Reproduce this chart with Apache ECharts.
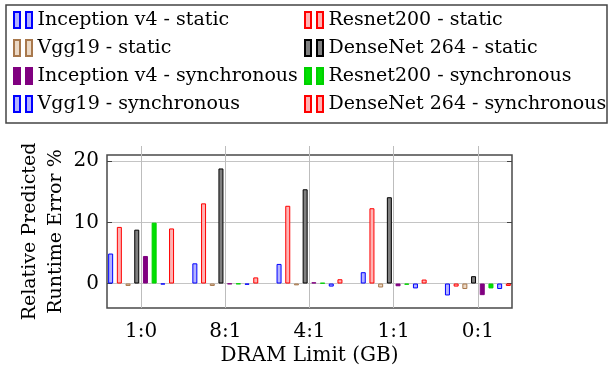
<!DOCTYPE html>
<html><head><meta charset="utf-8">
<script src="https://cdn.jsdelivr.net/npm/echarts@6/dist/echarts.min.js"></script>
<style>html,body{margin:0;padding:0;background:#fff}#c{width:608px;height:378px}</style>
</head><body><div id="c"></div>
<script>
const categories = ['1:0', '8:1', '4:1', '1:1', '0:1'];
const seriesNames = [
  'Inception v4 - static', 'Resnet200 - static', 'Vgg19 - static', 'DenseNet 264 - static',
  'Inception v4 - synchronous', 'Resnet200 - synchronous', 'Vgg19 - synchronous', 'DenseNet 264 - synchronous'
];
const inceptionStatic = [4.9, 3.3, 3.2, 1.85, -1.95];
const resnetStatic    = [9.25, 13.1, 12.7, 12.3, -0.5];
const vggStatic       = [-0.4, -0.4, -0.3, -0.65, -0.9];
const densenetStatic  = [8.8, 18.8, 15.4, 14.1, 1.2];
const inceptionSync   = [4.5, -0.1, 0.2, -0.45, -1.9];
const resnetSync      = [9.95, -0.1, 0.1, -0.2, -0.8];
const vggSync         = [-0.15, -0.2, -0.5, -0.8, -0.9];
const densenetSync    = [9.0, 1.0, 0.7, 0.65, -0.4];
const yTicks = [0, 10, 20];

const seriesData = [inceptionStatic, resnetStatic, vggStatic, densenetStatic,
                    inceptionSync, resnetSync, vggSync, densenetSync];
const fills   = ['#b3b3ff', '#ffb3b3', '#ecd9c6', '#808080', '#800080', '#00e000', '#b3b3ff', '#ffb3b3'];
const borders = ['#0000ff', '#ff0000', '#a8784c', '#000000', '#800080', '#00d000', '#0000ff', '#ff0000'];

const FONT = 'DejaVu Serif';
const FS = 19;
const FS_AX = 20;
const chart = echarts.init(document.getElementById('c'), null, {renderer: 'canvas'});

const legendIcon = 'path://M0,0h6v16h-6zM12,0h6v16h-6z';
const legendCommon = {
  orient: 'vertical', top: 8, itemGap: 4, itemWidth: 19, itemHeight: 16,
  icon: legendIcon, selectedMode: false,
  textStyle: {fontFamily: FONT, fontSize: FS, color: '#000', lineHeight: 24},
  padding: 0
};

chart.setOption({
  animation: false,
  backgroundColor: '#fff',
  textStyle: {fontFamily: FONT},
  graphic: [{
    type: 'rect', shape: {x: 6, y: 5, width: 601, height: 118},
    style: {fill: 'none', stroke: '#444', lineWidth: 1.5}, silent: true
  }],
  legend: [
    Object.assign({}, legendCommon, {left: 13, data: [seriesNames[0], seriesNames[2], seriesNames[4], seriesNames[6]]}),
    Object.assign({}, legendCommon, {left: 304, data: [seriesNames[1], seriesNames[3], seriesNames[5], seriesNames[7]]})
  ],
  grid: [
    {left: 99, right: 88, top: 155, bottom: 70},
    {left: 107, right: 96, top: 155, bottom: 70, show: true, borderColor: '#4a4a4a', borderWidth: 1.5, backgroundColor: 'transparent'}
  ],
  xAxis: [
    {
      gridIndex: 0, type: 'category', position: 'bottom', data: categories,
      axisLine: {show: false},
      axisTick: {show: true, alignWithLabel: true, length: 9, lineStyle: {color: '#bdbdbd', width: 1}},
      axisLabel: {fontFamily: FONT, fontSize: FS_AX, color: '#000', margin: 14},
      splitLine: {show: false},
      name: 'DRAM Limit (GB)', nameLocation: 'middle', nameGap: 38, nameMoveOverlap: false,
      nameTextStyle: {fontFamily: FONT, fontSize: FS_AX, color: '#000'}
    },
    {
      gridIndex: 0, type: 'category', position: 'top', offset: 9, data: categories,
      axisLine: {show: false},
      axisTick: {show: true, alignWithLabel: true, inside: true, length: 162, lineStyle: {color: '#bdbdbd', width: 1}},
      axisLabel: {show: false}, splitLine: {show: false}
    },
    {gridIndex: 1, type: 'value', min: 0, max: 1, show: false}
  ],
  yAxis: [
    {gridIndex: 0, type: 'value', min: -4, max: 21, show: false},
    {
      gridIndex: 1, type: 'value', min: -4, max: 21, position: 'left',
      axisLine: {show: false},
      axisTick: {show: true, inside: true, length: 5, customValues: yTicks, lineStyle: {color: '#444'}},
      axisLabel: {customValues: yTicks, fontFamily: FONT, fontSize: FS_AX, color: '#000', margin: 8},
      splitLine: {show: true, lineStyle: {color: '#c4c4c4', width: 1}},
      name: 'Relative Predicted\nRuntime Error %', nameLocation: 'middle', nameGap: 38, nameMoveOverlap: false,
      nameTextStyle: {fontFamily: FONT, fontSize: FS, color: '#000', lineHeight: 26}
    },
    {
      gridIndex: 1, type: 'value', min: -4, max: 21, position: 'right',
      axisLine: {show: false},
      axisTick: {show: true, inside: true, length: 5, customValues: yTicks, lineStyle: {color: '#444'}},
      axisLabel: {show: false}, splitLine: {show: false}
    }
  ],
  series: seriesNames.map((name, i) => ({
    name, type: 'bar', xAxisIndex: 0, yAxisIndex: 0,
    data: seriesData[i], barWidth: 5, barGap: '74%',
    itemStyle: {color: fills[i], borderColor: borders[i], borderWidth: 1},
    emphasis: {disabled: true}
  }))
});
</script>
</body></html>
